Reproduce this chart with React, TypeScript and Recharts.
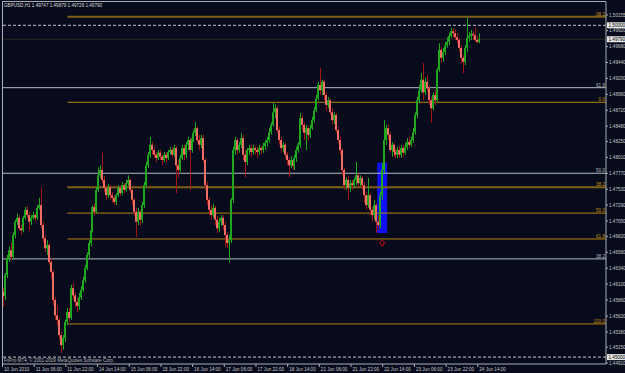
import React from "react";
import {
  ComposedChart,
  Bar,
  XAxis,
  YAxis,
  ReferenceLine,
  ReferenceArea,
  ReferenceDot,
} from "recharts";

const FONT = "'Liberation Sans', Arial, sans-serif";
const BG = "#070b1b";
const FRAME = "#a8b0b8";
const TEXT = "#c8c8c8";

// GBPUSD H1, 10 Jun - 24 Jun 2010
const firstOpen = 1.4612;
const closes = [
  1.4598, 1.4592, 1.4624, 1.4649, 1.4661, 1.4651, 1.4684, 1.4704, 1.471, 1.4694,
  1.4691, 1.471, 1.4722, 1.4714, 1.4704, 1.471, 1.4714, 1.471, 1.4725, 1.4729,
  1.4699, 1.4679, 1.4664, 1.4669, 1.4643, 1.4628, 1.4586, 1.4563, 1.4556, 1.4533,
  1.4518, 1.4529, 1.4553, 1.4568, 1.4559, 1.4604, 1.4593, 1.4583, 1.4577, 1.459,
  1.4601, 1.4616, 1.4634, 1.4654, 1.4672, 1.4691, 1.4726, 1.4719, 1.4752, 1.4774,
  1.4782, 1.4767, 1.4755, 1.4744, 1.4756, 1.4744, 1.474, 1.4734, 1.4744, 1.4755,
  1.4747, 1.4759, 1.4752, 1.4762, 1.4767, 1.4752, 1.4737, 1.4719, 1.4704, 1.4719,
  1.4707, 1.4729, 1.4759, 1.4789, 1.4805, 1.482, 1.4812, 1.4805, 1.48, 1.4808,
  1.4802, 1.4797, 1.4805, 1.48, 1.4809, 1.4812, 1.4805, 1.4815, 1.4789, 1.4782,
  1.48, 1.4815, 1.4805, 1.482, 1.4827, 1.4812, 1.483, 1.4838, 1.4845, 1.4827,
  1.482, 1.483, 1.4797, 1.4759, 1.4737, 1.4722, 1.4714, 1.4725, 1.4707, 1.4694,
  1.4704, 1.471, 1.4699, 1.4684, 1.4672, 1.4676, 1.4737, 1.4812, 1.4827, 1.4812,
  1.482, 1.483, 1.4805, 1.4794, 1.4812, 1.4815, 1.4809, 1.4815, 1.4812, 1.4809,
  1.4815, 1.4812, 1.4818, 1.4823, 1.4827, 1.4839, 1.485, 1.4869, 1.4875, 1.4842,
  1.4827, 1.4815, 1.482, 1.4805, 1.4797, 1.4789, 1.4797, 1.4788, 1.48, 1.4812,
  1.482, 1.486, 1.485, 1.4838, 1.4845, 1.4835, 1.4845, 1.4857, 1.4872, 1.489,
  1.491, 1.4902, 1.4915, 1.4895, 1.488, 1.4887, 1.4869, 1.4857, 1.4865, 1.4842,
  1.4827, 1.4812, 1.4782, 1.4759, 1.4767, 1.4755, 1.4762, 1.4759, 1.4767, 1.4774,
  1.4762, 1.477, 1.4759, 1.4744, 1.4729, 1.4744, 1.4722, 1.4714, 1.4729, 1.4704,
  1.4699, 1.4744, 1.4782, 1.4827, 1.4845, 1.4835, 1.4812, 1.482, 1.4809, 1.4805,
  1.4812, 1.4805, 1.4815, 1.4808, 1.4817, 1.4824, 1.482, 1.4827, 1.4839, 1.4865,
  1.4887, 1.4902, 1.4918, 1.4899, 1.4915, 1.4905, 1.4887, 1.4875, 1.4895, 1.4887,
  1.4933, 1.4963, 1.4951, 1.496, 1.497, 1.4975, 1.4984, 1.4991, 1.4988, 1.4982,
  1.4978, 1.4966, 1.4951, 1.4945, 1.4966, 1.4981, 1.4984, 1.4987, 1.4985, 1.4978,
  1.4975, 1.4979,
];
const highs = [
  1.4616, 1.4604, 1.4627, 1.4654, 1.4667, 1.4672, 1.4688, 1.4707, 1.4716, 1.4714,
  1.4699, 1.4713, 1.4726, 1.4728, 1.4719, 1.4714, 1.4719, 1.4717, 1.4729, 1.474,
  1.4756, 1.4704, 1.4684, 1.4676, 1.4672, 1.4649, 1.4631, 1.459, 1.4578, 1.4559,
  1.4538, 1.4533, 1.4556, 1.4574, 1.4574, 1.4609, 1.4612, 1.4598, 1.4589, 1.4597,
  1.4607, 1.4621, 1.4639, 1.4658, 1.4676, 1.4696, 1.4729, 1.4732, 1.4756, 1.4786,
  1.4789, 1.4808, 1.4773, 1.4759, 1.4761, 1.4759, 1.4749, 1.4744, 1.4747, 1.4759,
  1.4759, 1.4764, 1.4762, 1.4767, 1.4774, 1.477, 1.4755, 1.474, 1.4725, 1.4725,
  1.4722, 1.4734, 1.4764, 1.4794, 1.4809, 1.4832, 1.4824, 1.4817, 1.4809, 1.4812,
  1.4812, 1.4805, 1.4809, 1.4808, 1.4812, 1.4817, 1.4817, 1.482, 1.4818, 1.4797,
  1.4805, 1.482, 1.482, 1.4824, 1.4832, 1.483, 1.4835, 1.4842, 1.4854, 1.4848,
  1.4835, 1.4835, 1.4835, 1.48, 1.4764, 1.4741, 1.4729, 1.4731, 1.4728, 1.4713,
  1.471, 1.4714, 1.4714, 1.4704, 1.4688, 1.4684, 1.474, 1.4817, 1.4832, 1.483,
  1.4824, 1.4838, 1.4835, 1.4812, 1.4815, 1.482, 1.482, 1.482, 1.4818, 1.4817,
  1.482, 1.4818, 1.4823, 1.4827, 1.4832, 1.4845, 1.4854, 1.4883, 1.4881, 1.4878,
  1.4847, 1.4832, 1.4824, 1.4823, 1.4809, 1.4802, 1.4803, 1.48, 1.4805, 1.4817,
  1.4824, 1.4868, 1.4865, 1.4854, 1.485, 1.4848, 1.485, 1.4862, 1.4877, 1.4895,
  1.4915, 1.4936, 1.4918, 1.4918, 1.4899, 1.4892, 1.489, 1.4875, 1.4869, 1.4868,
  1.4847, 1.4832, 1.4815, 1.4785, 1.4771, 1.4773, 1.4767, 1.4767, 1.477, 1.4794,
  1.4777, 1.4774, 1.4773, 1.4764, 1.4749, 1.477, 1.4747, 1.4726, 1.4737, 1.4732,
  1.4714, 1.4749, 1.4793, 1.4857, 1.485, 1.485, 1.4839, 1.4824, 1.4823, 1.4815,
  1.4817, 1.4818, 1.482, 1.482, 1.4823, 1.483, 1.4832, 1.4832, 1.4845, 1.4869,
  1.4892, 1.491, 1.4928, 1.4943, 1.4921, 1.4925, 1.491, 1.4892, 1.4899, 1.4902,
  1.4936, 1.4973, 1.4967, 1.4966, 1.4975, 1.4982, 1.4988, 1.4996, 1.4996, 1.4993,
  1.4988, 1.4981, 1.497, 1.4955, 1.497, 1.5011, 1.499, 1.4993, 1.4991, 1.4997,
  1.4984, 1.4988,
];
const lows = [
  1.4589, 1.4576, 1.4586, 1.4619, 1.4643, 1.4646, 1.4648, 1.4679, 1.4699, 1.4691,
  1.4684, 1.4688, 1.4707, 1.471, 1.4691, 1.4699, 1.4707, 1.4704, 1.4707, 1.4722,
  1.4694, 1.4673, 1.4658, 1.4654, 1.4639, 1.4619, 1.4578, 1.4556, 1.4548, 1.4526,
  1.4506, 1.4511, 1.4523, 1.4548, 1.4553, 1.4556, 1.4586, 1.4575, 1.4568, 1.4571,
  1.4586, 1.4598, 1.4612, 1.4631, 1.4649, 1.4667, 1.4688, 1.4713, 1.4716, 1.4749,
  1.477, 1.4762, 1.4749, 1.4737, 1.474, 1.4737, 1.4732, 1.4729, 1.4729, 1.4741,
  1.4743, 1.4744, 1.4747, 1.4749, 1.4758, 1.4747, 1.4729, 1.4713, 1.4681, 1.4699,
  1.4698, 1.4702, 1.4725, 1.4755, 1.4785, 1.48, 1.4805, 1.48, 1.4794, 1.4797,
  1.4797, 1.4789, 1.4794, 1.4794, 1.4797, 1.4805, 1.48, 1.4802, 1.4747, 1.477,
  1.4779, 1.4797, 1.4797, 1.48, 1.4812, 1.4752, 1.4808, 1.4824, 1.4833, 1.4823,
  1.4812, 1.4815, 1.4793, 1.4752, 1.4729, 1.4714, 1.4707, 1.471, 1.4699, 1.4687,
  1.4688, 1.4698, 1.4691, 1.4666, 1.4664, 1.4643, 1.4672, 1.4732, 1.4805, 1.4805,
  1.4808, 1.4815, 1.4797, 1.4771, 1.4789, 1.4805, 1.4802, 1.4805, 1.4805, 1.48,
  1.4805, 1.4806, 1.4808, 1.4812, 1.4817, 1.4823, 1.4835, 1.4847, 1.486, 1.4838,
  1.482, 1.4808, 1.4809, 1.48, 1.4789, 1.4771, 1.4785, 1.4782, 1.4782, 1.4794,
  1.4808, 1.4815, 1.4842, 1.4827, 1.4812, 1.4827, 1.483, 1.4842, 1.4853, 1.4869,
  1.4887, 1.4895, 1.4895, 1.4887, 1.4872, 1.4875, 1.4865, 1.485, 1.4851, 1.4838,
  1.4823, 1.4805, 1.4774, 1.4752, 1.4752, 1.4737, 1.4749, 1.4752, 1.4755, 1.4759,
  1.4756, 1.4758, 1.4752, 1.4732, 1.4722, 1.4725, 1.4714, 1.4704, 1.4707, 1.4687,
  1.4691, 1.4694, 1.4737, 1.4777, 1.482, 1.4827, 1.4808, 1.4802, 1.4802, 1.48,
  1.48, 1.48, 1.48, 1.4802, 1.4805, 1.4812, 1.4815, 1.4817, 1.4823, 1.4835,
  1.486, 1.4883, 1.4898, 1.4887, 1.4895, 1.4899, 1.488, 1.4853, 1.4872, 1.488,
  1.4884, 1.493, 1.4943, 1.4945, 1.4955, 1.4966, 1.497, 1.4981, 1.4982, 1.4978,
  1.4973, 1.496, 1.4943, 1.4928, 1.494, 1.496, 1.4975, 1.4978, 1.4978, 1.4975,
  1.4972, 1.4973,
];

// time axis: one label every 16 bars
const tickBars = [0, 16, 32, 48, 64, 80, 96, 112, 128, 144, 160, 176, 192, 208, 224, 240];
const tickLabels = [
  "10 Jun 2010", "11 Jun 06:00", "11 Jun 22:00", "14 Jun 14:00",
  "15 Jun 06:00", "15 Jun 22:00", "16 Jun 14:00", "17 Jun 06:00",
  "17 Jun 22:00", "18 Jun 14:00", "21 Jun 06:00", "21 Jun 22:00",
  "22 Jun 14:00", "23 Jun 06:00", "23 Jun 22:00", "24 Jun 14:00",
];

const priceTicks = [
  1.50155, 1.4992, 1.4968, 1.4944, 1.492, 1.4896, 1.4872, 1.4848, 1.4825, 1.4801,
  1.4777, 1.4753, 1.4729, 1.4705, 1.4682, 1.4658, 1.4634, 1.461, 1.4586, 1.4562,
  1.4538, 1.4515, 1.4491,
];

// fibo levels
const grayFibLabels = ["61.8", "50.0", "38.2"];
const grayFibPrices = [1.4906, 1.4777, 1.4648];
const orangeFibLabels = ["-38.2", "0.0", "38.2", "50.0", "61.8", "100.0"];
const orangeFibPrices = [1.5013, 1.4884, 1.4756, 1.4717, 1.4678, 1.455];
const orangeFibStartBar = 33;

const dashedPrices = [1.5, 1.45];
const bidPrice = 1.4979;

const boxBars = [189.5, 194.5];
const boxPrices = [1.4687, 1.4793];
const arrowBar = 192;
const arrowPrice = 1.4672;

const X_DOMAIN = [0, 305];
const Y_DOMAIN = [1.44896, 1.50351];

const bars = closes.map((c, i) => ({
  i,
  o: i === 0 ? firstOpen : closes[i - 1],
  h: highs[i],
  l: lows[i],
  c,
}));

const Candle = (props: any) => {
  const { x, y, width, height, payload } = props;
  if (x == null || !payload) return null;
  const { o, h, l, c } = payload;
  const px = Math.floor(x + width / 2);
  const span = h - l || 0.00001;
  const py = (v: number) => y + ((h - v) / span) * height;
  const up = c >= o;
  const top = py(Math.max(o, c));
  const bodyH = Math.max(1, py(Math.min(o, c)) - top);
  return (
    <g>
      <line
        x1={px + 0.5}
        x2={px + 0.5}
        y1={y}
        y2={y + height}
        stroke={up ? "#1fa81f" : "#a01616"}
        strokeWidth={1}
      />
      <rect x={px - 1} y={top} width={2} height={bodyH} fill={up ? "#1fa81f" : "#ee6e64"} />
    </g>
  );
};

const TimeTick = (props: any) => {
  const { x, y, payload } = props;
  const label = tickLabels[tickBars.indexOf(payload.value)];
  return (
    <g>
      <line x1={x + 0.5} x2={x + 0.5} y1={y} y2={y + 3} stroke={FRAME} />
      <text x={x + 2} y={y + 6.5} fontSize={4.6} fill={TEXT} fontFamily={FONT}>
        {label}
      </text>
    </g>
  );
};

const levelLabel = (text: string, color: string) => (props: any) => {
  const vb = props.viewBox;
  if (!vb) return null;
  return (
    <text x={vb.x + vb.width - 1} y={vb.y - 1} textAnchor="end" fontSize={4.6} fill={color} fontFamily={FONT}>
      {text}
    </text>
  );
};

const axisBox = (price: number) => (props: any) => {
  const vb = props.viewBox;
  if (!vb) return null;
  const x0 = vb.x + vb.width + 1;
  return (
    <g>
      <rect x={x0} y={vb.y - 3} width={19} height={6} fill="#e6e6e6" />
      <text x={x0 + 1.5} y={vb.y + 1.7} fontSize={4.6} fill="#000" fontFamily={FONT}>
        {price.toFixed(5)}
      </text>
    </g>
  );
};

const Arrow = (props: any) => {
  const { cx, cy } = props;
  if (cx == null) return null;
  const d = `M${cx} ${cy - 3} L${cx + 3} ${cy} L${cx + 1.2} ${cy} L${cx + 1.2} ${cy + 3} L${cx - 1.2} ${cy + 3} L${cx - 1.2} ${cy} L${cx - 3} ${cy} Z`;
  return <path d={d} fill="none" stroke="#c41010" strokeWidth={0.9} />;
};

export default function App() {
  return (
    <div style={{ position: "absolute", left: 0, top: 0, width: 625, height: 373, background: BG, overflow: "hidden" }}>
      {/* back layer: axes, fibo levels, rectangle */}
      <ComposedChart
        width={625}
        height={373}
        data={bars}
        margin={{ top: 2, right: 0, bottom: 0, left: 2 }}
        style={{ position: "absolute", left: 0, top: 0 }}
      >
        <XAxis
          type="number"
          dataKey="i"
          domain={X_DOMAIN}
          allowDataOverflow
          ticks={tickBars}
          interval={0}
          height={9}
          tickSize={0}
          tickMargin={0}
          tickLine={false}
          tick={<TimeTick />}
          stroke={FRAME}
        />
        <YAxis
          orientation="right"
          type="number"
          domain={Y_DOMAIN}
          allowDataOverflow
          ticks={priceTicks}
          interval={0}
          width={19}
          tickSize={2}
          tickMargin={1}
          stroke={FRAME}
          tickFormatter={(v: number) => v.toFixed(5)}
          tick={{ fontSize: 4.6, fill: TEXT, fontFamily: FONT }}
        />
        <ReferenceArea
          x1={boxBars[0]}
          x2={boxBars[1]}
          y1={boxPrices[0]}
          y2={boxPrices[1]}
          fill="#1010f8"
          fillOpacity={1}
          stroke="none"
        />
        {grayFibPrices.map((p, k) => (
          <ReferenceLine
            key={"g" + k}
            y={p}
            stroke="#b4bcc4"
            strokeWidth={1}
            label={levelLabel(grayFibLabels[k], "#b4bcc4")}
          />
        ))}
        {orangeFibPrices.map((p, k) => (
          <ReferenceLine
            key={"o" + k}
            segment={[
              { x: orangeFibStartBar, y: p },
              { x: X_DOMAIN[1], y: p },
            ]}
            stroke={k === 0 || k === 2 ? "#7e6018" : "#b8840f"}
            strokeWidth={k === 0 || k === 2 ? 2 : 1}
            label={levelLabel(orangeFibLabels[k], "#c8920f")}
          />
        ))}
        <ReferenceLine y={bidPrice} stroke="#2e2a24" strokeWidth={1} label={axisBox(bidPrice)} />
        {dashedPrices.map((p) => (
          <ReferenceLine
            key={"d" + p}
            y={p}
            stroke="#c8c8c8"
            strokeDasharray="3 2"
            strokeWidth={1}
            label={axisBox(p)}
          />
        ))}
      </ComposedChart>

      {/* front layer: candles and the arrow, same plot box and domains */}
      <ComposedChart
        width={625}
        height={373}
        data={bars}
        margin={{ top: 2, right: 19, bottom: 9, left: 2 }}
        style={{ position: "absolute", left: 0, top: 0 }}
      >
        <XAxis type="number" dataKey="i" domain={X_DOMAIN} allowDataOverflow hide />
        <YAxis type="number" domain={Y_DOMAIN} allowDataOverflow hide />
        <Bar
          dataKey={(d: any) => [d.l, d.h]}
          barSize={2}
          shape={<Candle />}
          isAnimationActive={false}
        />
        <ReferenceDot x={arrowBar} y={arrowPrice} r={3} shape={<Arrow />} />
      </ComposedChart>

      <svg
        width={625}
        height={373}
        style={{ position: "absolute", left: 0, top: 0, pointerEvents: "none" }}
      >
        <line x1={2.5} x2={2.5} y1={1.5} y2={364} stroke={FRAME} />
        <line x1={2.5} x2={606} y1={1.5} y2={1.5} stroke={FRAME} />
        <text x={4} y={7} fontSize={4.6} fill="#d8d8d8" fontFamily={FONT}>
          GBPUSD,H1 1.49747 1.49879 1.49726 1.49790
        </text>
        <text x={4} y={362} fontSize={4.6} fill="#b8b8b8" fontFamily={FONT}>
          FxPro MT4, © 2001-2009 MetaQuotes Software Corp.
        </text>
      </svg>
    </div>
  );
}
